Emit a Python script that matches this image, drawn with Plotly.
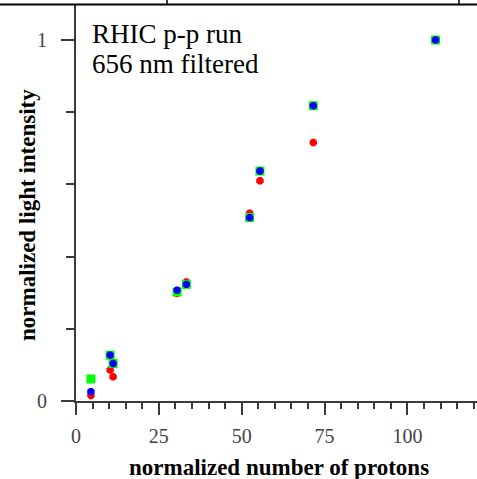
import plotly.graph_objects as go

# Data
protons = [4.5, 10.3, 11.2, 30.5, 33.3, 52.4, 55.5, 71.6, 108.5]
green_y = [0.061, 0.127, 0.104, 0.302, 0.323, 0.508, 0.637, 0.818, 1.0]
blue_y = [0.026, 0.127, 0.104, 0.307, 0.323, 0.508, 0.637, 0.818, 1.0]
red_y = [0.015, 0.086, 0.067, 0.298, 0.330, 0.520, 0.610, 0.716, 1.0]

x_ticks = [0, 25, 50, 75, 100]
y_ticks = [0, 1]

SERIF = "Liberation Serif"
AX = "#3a3a3a"

fig = go.Figure()
fig.add_trace(go.Scatter(x=protons, y=red_y, mode="markers", cliponaxis=False,
                         marker=dict(symbol="octagon", size=8, color="#ff0000", line=dict(width=0))))
fig.add_trace(go.Scatter(x=protons, y=green_y, mode="markers", cliponaxis=False,
                         marker=dict(symbol="square", size=9, color="#00ff00", line=dict(width=0))))
fig.add_trace(go.Scatter(x=protons, y=blue_y, mode="markers", cliponaxis=False,
                         marker=dict(symbol="octagon", size=8, color="#0000ff", line=dict(width=0))))

fig.update_layout(
    width=477, height=479,
    margin=dict(l=76, r=0, t=5, b=78),
    paper_bgcolor="white", plot_bgcolor="white",
    showlegend=False,
    font=dict(family=SERIF, color="black"),
    xaxis=dict(range=[0, 121], showgrid=False, zeroline=False,
               showline=True, linecolor=AX, linewidth=2,
               tickvals=x_ticks, ticktext=[str(v) for v in x_ticks],
               ticks="outside", ticklen=12, tickwidth=2, tickcolor=AX,
               minor=dict(dtick=5, ticks="outside", ticklen=6, tickwidth=2, tickcolor=AX),
               tickfont=dict(family=SERIF, size=20, color="#444"),
               ticklabelstandoff=4),
    yaxis=dict(range=[0, 1.097], showgrid=False, zeroline=False,
               showline=True, linecolor=AX, linewidth=2,
               tickvals=y_ticks, ticktext=[str(v) for v in y_ticks],
               ticks="outside", ticklen=13, tickwidth=2, tickcolor=AX,
               minor=dict(dtick=0.2, ticks="outside", ticklen=8, tickwidth=2, tickcolor=AX),
               tickfont=dict(family=SERIF, size=20, color="#444"),
               ticklabelstandoff=10),
)

# Text annotations
for txt, yp in [("RHIC p-p run", 0.968), ("656 nm filtered", 0.892)]:
    fig.add_annotation(text=txt, xref="paper", yref="paper",
                       x=0.038, y=yp, xanchor="left", yanchor="top", showarrow=False,
                       align="left", borderpad=0,
                       font=dict(family=SERIF, size=27, color="black"))
fig.add_annotation(text="<b>normalized number of protons</b>", xref="paper", yref="paper",
                   x=0.505, y=-0.1667, xanchor="center", yanchor="middle", showarrow=False,
                   font=dict(family=SERIF, size=23, color="black"))
fig.add_annotation(text="<b>normalized light intensity</b>", xref="paper", yref="paper",
                   x=-0.1197, y=0.4697, xanchor="center", yanchor="middle", showarrow=False,
                   textangle=-90, font=dict(family=SERIF, size=23, color="black"))

# Border fragments at the top of the image (crop artifacts of the source)
fig.add_shape(type="line", xref="paper", yref="paper", x0=-0.19, x1=1.0, y0=1.0013, y1=1.0013,
              line=dict(color="black", width=2))
for xp in [0.227, 0.955]:
    fig.add_shape(type="line", xref="paper", yref="paper", x0=xp, x1=xp, y0=1.0013, y1=1.013,
                  line=dict(color="black", width=1.5))

fig.write_html("out.html")
